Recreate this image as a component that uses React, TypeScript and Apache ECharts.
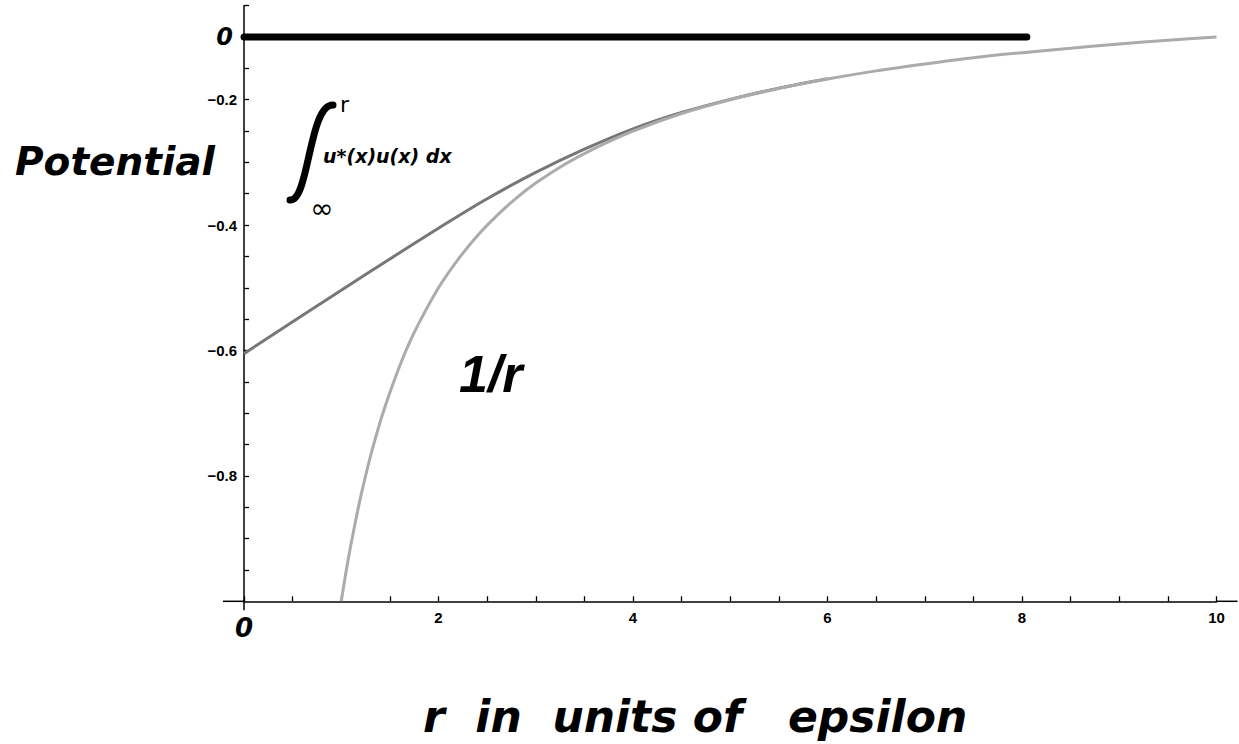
import React, { useEffect, useRef } from "react";
import * as echarts from "echarts";

// Black reference line ("0" level)
const zeroLineR = [0, 8.05];
const zeroLineV = [-0.1, -0.1];

// Dark grey curve: potential of the smeared charge
const smearR = [0, 0.5, 1, 1.5, 2, 2.5, 3, 3.5, 4, 4.5, 5, 5.5, 6];
const smearV = [-0.605, -0.554, -0.504, -0.454, -0.405, -0.358, -0.316, -0.279, -0.2465, -0.2205, -0.1995, -0.1815, -0.1665];

// Light grey curve: 1/r potential
const coulombR = [1, 1.05, 1.1, 1.15, 1.2, 1.3, 1.4, 1.5, 1.6, 1.7, 1.8, 2, 2.2, 2.4, 2.6, 2.8, 3, 3.3, 3.6, 4, 4.5, 5, 5.5, 6, 6.5, 7, 7.5, 8, 8.5, 9, 9.5, 10];
const coulombV = [-1, -0.952, -0.909, -0.87, -0.833, -0.769, -0.714, -0.667, -0.625, -0.588, -0.556, -0.5, -0.455, -0.417, -0.385, -0.357, -0.333, -0.303, -0.278, -0.25, -0.222, -0.2, -0.182, -0.167, -0.154, -0.143, -0.133, -0.125, -0.118, -0.111, -0.105, -0.1];

// Tick labels
const xLabelValues = [0, 2, 4, 6, 8, 10];
const xLabelTexts = ["0", "2", "4", "6", "8", "10"];
const yLabelValues = [-0.8, -0.6, -0.4, -0.2, -0.1];
const yLabelTexts = ["\u22120.8", "\u22120.6", "\u22120.4", "\u22120.2", "0"];

const pairs = (xs: number[], ys: number[]) => xs.map((x, i) => [x, ys[i]]);

const BIG_FONT = '"DejaVu Sans", sans-serif';
const TICK_FONT = '"Liberation Sans", Arial, sans-serif';

export default function App() {
  const ref = useRef<HTMLDivElement>(null);

  useEffect(() => {
    document.body.style.margin = "0";
    const chart = echarts.init(ref.current!, null, { renderer: "svg" });

    const big = {
      fontFamily: BIG_FONT,
      fontSize: 26,
      fontWeight: "bold",
      fontStyle: "italic",
      color: "#000",
    };

    chart.setOption({
      animation: false,
      backgroundColor: "#fff",
      grid: { left: 244, right: 22.5, top: 5.65, bottom: 142.7, containLabel: false },
      xAxis: {
        type: "value",
        min: 0,
        max: 10,
        interval: 0.5,
        axisLine: {
          show: true,
          onZero: false,
          lineStyle: { color: "#000", width: 1.5 },
          symbol: ["rect", "rect"],
          symbolSize: [1.5, 21],
          symbolOffset: [-10.5, 10.5],
        },
        axisTick: { show: true, inside: true, length: 5, lineStyle: { color: "#000", width: 1.3 } },
        axisLabel: {
          margin: 9,
          color: "#000",
          fontFamily: TICK_FONT,
          fontWeight: "bold",
          fontSize: 15,
          formatter: (v: number) => {
            const i = xLabelValues.findIndex((x) => Math.abs(x - v) < 1e-6);
            if (i < 0) return "";
            return v === 0 ? "{big|" + xLabelTexts[i] + "}" : xLabelTexts[i];
          },
          rich: {
            big: { ...big, padding: [5, 0, 0, 0] },
          },
        },
        splitLine: { show: false },
      },
      yAxis: {
        type: "value",
        min: -1,
        max: -0.05,
        interval: 0.05,
        axisLine: {
          show: true,
          onZero: false,
          lineStyle: { color: "#000", width: 1.5 },
          symbol: ["rect", "none"],
          symbolSize: [1.5, 9],
          symbolOffset: [-4.5, 0],
        },
        axisTick: { show: true, inside: true, length: 5, lineStyle: { color: "#000", width: 1.3 } },
        axisLabel: {
          margin: 7,
          color: "#000",
          fontFamily: TICK_FONT,
          fontWeight: "bold",
          fontSize: 15,
          showMinLabel: false,
          formatter: (v: number) => {
            const i = yLabelValues.findIndex((y) => Math.abs(y - v) < 1e-6);
            if (i < 0) return "";
            return yLabelTexts[i] === "0" ? "{big|0}" : yLabelTexts[i];
          },
          rich: {
            big: { ...big, fontSize: 24, padding: [0, 4, 0, 0] },
          },
        },
        splitLine: { show: false },
      },
      series: [
        {
          type: "line",
          data: pairs(smearR, smearV),
          smooth: 0.35,
          showSymbol: false,
          symbol: "none",
          lineStyle: { color: "#777777", width: 3 },
          z: 2,
        },
        {
          type: "line",
          data: pairs(coulombR, coulombV),
          smooth: 0.3,
          showSymbol: false,
          symbol: "none",
          lineStyle: { color: "#ababab", width: 3 },
          z: 3,
        },
        {
          type: "line",
          data: pairs(zeroLineR, zeroLineV),
          showSymbol: false,
          symbol: "none",
          lineStyle: { color: "#000", width: 7, cap: "round" },
          z: 4,
        },
      ],
      graphic: [
        {
          type: "text",
          x: 15,
          y: 161,
          style: {
            text: "Potential",
            font: 'italic bold 39px "DejaVu Sans"',
            fill: "#000",
            textAlign: "left",
            textVerticalAlign: "middle",
          },
        },
        {
          type: "text",
          x: 423,
          y: 716,
          style: {
            text: "r  in  units of   epsilon",
            font: 'italic bold 44px "DejaVu Sans"',
            fill: "#000",
            textAlign: "left",
            textVerticalAlign: "middle",
          },
        },
        {
          type: "text",
          x: 459,
          y: 374,
          style: {
            text: "1/r",
            font: 'italic bold 52px "Liberation Sans"',
            fill: "#000",
            textAlign: "left",
            textVerticalAlign: "middle",
          },
        },
        {
          type: "bezierCurve",
          shape: { x1: 290, y1: 200, cpx1: 309, cpy1: 202, cpx2: 309, cpy2: 104, x2: 333, y2: 105 },
          style: { stroke: "#000", lineWidth: 7, lineCap: "round", fill: null },
        },
        {
          type: "text",
          x: 340,
          y: 104,
          style: {
            text: "r",
            font: '22px "DejaVu Sans"',
            fill: "#000",
            textAlign: "left",
            textVerticalAlign: "middle",
          },
        },
        {
          type: "text",
          x: 323,
          y: 156,
          style: {
            text: "u*(x)u(x) dx",
            font: 'italic bold 19px "DejaVu Sans"',
            fill: "#000",
            textAlign: "left",
            textVerticalAlign: "middle",
          },
        },
        {
          type: "text",
          x: 322,
          y: 208,
          style: {
            text: "\u221E",
            font: '28px "DejaVu Sans"',
            fill: "#000",
            textAlign: "center",
            textVerticalAlign: "middle",
          },
        },
      ],
    });

    return () => chart.dispose();
  }, []);

  return <div ref={ref} style={{ width: 1239, height: 744, overflow: "hidden" }} />;
}
